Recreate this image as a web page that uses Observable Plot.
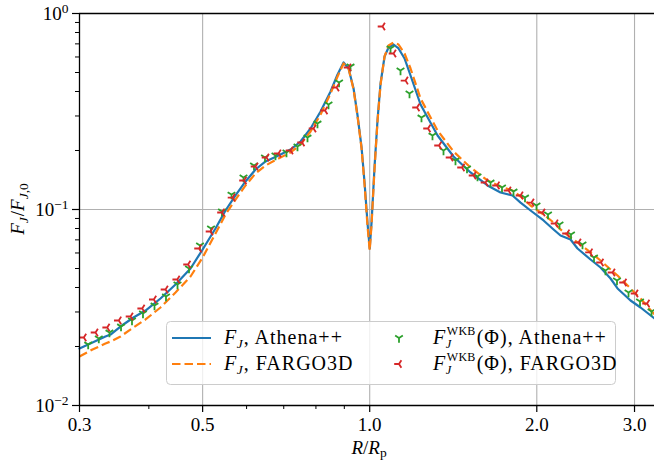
<!DOCTYPE html>
<html>
<head>
<meta charset="utf-8">
<script src="https://cdn.jsdelivr.net/npm/d3@7"></script>
<script src="https://cdn.jsdelivr.net/npm/@observablehq/plot@0.6"></script>
<style>
  body { margin: 0; background: #fff; }
  #wrap { position: relative; width: 654px; height: 461px; font-family: "Liberation Serif", serif; color: #000; }
  #wrap svg text { font-family: "Liberation Serif", serif; }
</style>
</head>
<body>
<div id="wrap"></div>
<script>
// ---- data ----
const xMajorTicks = [0.3, 0.5, 1, 2, 3];
const xMinorTicks = [0.4, 0.6, 0.7, 0.8, 0.9];
const yMajorTicks = [0.01, 0.1, 1];
const yMinorTicks = [0.02, 0.03, 0.04, 0.05, 0.06, 0.07, 0.08, 0.09, 0.2, 0.3, 0.4, 0.5, 0.6, 0.7, 0.8, 0.9];
const xGridTicks = [0.5, 1, 2, 3];
const yGridTicks = [0.1];

// radius grid of the simulation curves (R/Rp)
const lineR = [0.3000,0.3166,0.3341,0.3412,0.3556,0.3753,0.3945,0.4198,0.4468,0.4755,0.5000,0.5274,0.5498,0.5731,0.5974,0.6227,0.6491,0.6850,0.7200,0.7506,0.7824,0.8156,0.8501,0.8751,0.8972,0.9160,0.9352,0.9508,0.9668,0.9788,0.9911,1.0000,1.0077,1.0203,1.0331,1.0460,1.0635,1.0813,1.1040,1.1271,1.1555,1.1846,1.2348,1.3251,1.4159,1.5193,1.6304,1.7207,1.8086,1.8697,1.9489,2.0569,2.1441,2.2069,2.3004,2.3683,2.4995,2.6053,2.7157,2.7958,2.9506,3.0756,3.2592];
// F_J, Athena++
const athenaF = [0.01953,0.02096,0.02249,0.02302,0.02529,0.02812,0.03052,0.03515,0.04144,0.05000,0.06253,0.08001,0.09883,0.1179,0.1390,0.1600,0.1758,0.1886,0.2023,0.2223,0.2590,0.3162,0.4001,0.4884,0.5623,0.5241,0.4143,0.3018,0.2072,0.1373,0.08485,0.06326,0.08585,0.1657,0.2878,0.4394,0.6035,0.6707,0.6948,0.6630,0.5895,0.4827,0.3433,0.2385,0.1864,0.1545,0.1326,0.1221,0.1179,0.1085,0.09883,0.08789,0.07908,0.07370,0.07030,0.06326,0.05558,0.05060,0.04446,0.03954,0.03434,0.03162,0.02779];
// F_J, FARGO3D
const fargoF = [0.01778,0.01931,0.02071,0.02121,0.02249,0.02500,0.02747,0.03162,0.03772,0.04552,0.05689,0.07545,0.09429,0.1124,0.1326,0.1527,0.1677,0.1821,0.1954,0.2146,0.2500,0.3054,0.3907,0.4771,0.5557,0.5241,0.4095,0.2983,0.2047,0.1341,0.08191,0.06180,0.08386,0.1619,0.2844,0.4343,0.6035,0.6867,0.7112,0.6948,0.6251,0.5241,0.3683,0.2529,0.1977,0.1638,0.1406,0.1310,0.1250,0.1165,0.1048,0.09429,0.08585,0.07908,0.07197,0.06787,0.06036,0.05493,0.04942,0.04606,0.03954,0.03515,0.02912];

// F_J^WKB(Phi), Athena++
const wkbAthenaR = [0.3110,0.3250,0.3397,0.3564,0.3730,0.3904,0.4095,0.4295,0.4505,0.4725,0.4946,0.5177,0.5418,0.5636,0.5924,0.6187,0.6476,0.6764,0.7080,0.7411,0.7725,0.8052,0.8429,0.8805,0.9235,1.0902,1.1363,1.1795,1.2396,1.2975,1.3582,1.4274,1.4973,1.5639,1.6507,1.7312,1.8158,1.9046,1.9976,2.0952,2.1976,2.3049,2.4176,2.5357,2.6596,2.7896,2.9262,3.0692,3.2190];
const wkbAthenaF = [0.02047,0.02197,0.02357,0.02529,0.02715,0.02947,0.03237,0.03599,0.04144,0.05000,0.06553,0.08001,0.09768,0.1192,0.1457,0.1677,0.1842,0.1886,0.1954,0.2096,0.2329,0.2746,0.3433,0.4446,0.5364,0.6630,0.5120,0.3907,0.2946,0.2385,0.2000,0.1778,0.1619,0.1474,0.1373,0.1295,0.1235,0.1151,0.1048,0.09429,0.08386,0.07457,0.06630,0.05689,0.04884,0.04343,0.03772,0.03394,0.03017];

// F_J^WKB(Phi), FARGO3D
const wkbFargoR = [0.3054,0.3206,0.3365,0.3531,0.3707,0.3891,0.4083,0.4286,0.4500,0.4706,0.4926,0.5166,0.5418,0.5660,0.5936,0.6226,0.6517,0.6849,0.7200,0.7552,0.7921,0.8308,0.8714,0.9159,1.0545,1.1038,1.1601,1.2168,1.2736,1.3331,1.3983,1.4666,1.5382,1.6167,1.6956,1.7785,1.8693,1.9566,2.0479,2.1614,2.2670,2.3778,2.4940,2.6105,2.7380,2.8718,3.0125,3.1597];
const wkbFargoF = [0.02223,0.02357,0.02500,0.02715,0.02845,0.03125,0.03474,0.03907,0.04394,0.05241,0.06326,0.07724,0.09654,0.1151,0.1406,0.1657,0.1842,0.1931,0.2000,0.2197,0.2590,0.3200,0.4193,0.5302,0.8584,0.6251,0.4550,0.3314,0.2590,0.2121,0.1842,0.1638,0.1491,0.1373,0.1326,0.1250,0.1179,0.1085,0.09654,0.08485,0.07545,0.06787,0.06036,0.05366,0.04771,0.04242,0.03728,0.03314];

const seriesNames = ["F_J, Athena++", "F_J, FARGO3D", "F_J^WKB(Φ), Athena++", "F_J^WKB(Φ), FARGO3D"];
const colors = ["#1f77b4", "#ff7f0e", "#2ca02c", "#d62728"];

// ---- tables ----
const athena = lineR.map((r, i) => ({r, f: athenaF[i]}));
const fargo = lineR.map((r, i) => ({r, f: fargoF[i]}));
const wkbA = wkbAthenaR.map((r, i) => ({r, f: wkbAthenaF[i]}));
const wkbF = wkbFargoR.map((r, i) => ({r, f: wkbFargoF[i]}));

// matplotlib-like tri markers
const triDown = { draw(ctx, size) { const r = Math.sqrt(size / Math.PI);
  ctx.moveTo(0, 0); ctx.lineTo(0, r);
  ctx.moveTo(0, 0); ctx.lineTo(0.8 * r, -0.5 * r);
  ctx.moveTo(0, 0); ctx.lineTo(-0.8 * r, -0.5 * r); } };
const triLeft = { draw(ctx, size) { const r = Math.sqrt(size / Math.PI);
  ctx.moveTo(0, 0); ctx.lineTo(-r, 0);
  ctx.moveTo(0, 0); ctx.lineTo(0.5 * r, -0.8 * r);
  ctx.moveTo(0, 0); ctx.lineTo(0.5 * r, 0.8 * r); } };

const markR = 4.8;
const lw = 2.2;
const dash = "8.5,4";
const serif = "'Liberation Serif', serif";

const svg = Plot.plot({
  width: 654, height: 461,
  marginLeft: 79, marginRight: 0, marginTop: 13, marginBottom: 56,
  style: { fontFamily: serif, fontSize: "19px", color: "#000", background: "#fff", overflow: "visible" },
  x: { type: "log", domain: [0.3, 3.2592], label: null },
  y: { type: "log", domain: [0.01, 1], label: null },
  marks: [
    Plot.gridX(xGridTicks, { stroke: "#b0b0b0", strokeOpacity: 1, strokeWidth: 1.1 }),
    Plot.gridY(yGridTicks, { stroke: "#b0b0b0", strokeOpacity: 1, strokeWidth: 1.1 }),
    Plot.line(athena, { x: "r", y: "f", stroke: colors[0], strokeWidth: lw }),
    Plot.line(fargo, { x: "r", y: "f", stroke: colors[1], strokeWidth: lw, strokeDasharray: dash, strokeLinecap: "butt" }),
    Plot.dot(wkbA, { x: "r", y: "f", symbol: triDown, r: markR, stroke: colors[2], fill: "none", strokeWidth: 1.8 }),
    Plot.dot(wkbF, { x: "r", y: "f", symbol: triLeft, r: markR, stroke: colors[3], fill: "none", strokeWidth: 1.8 }),
    Plot.ruleX([0.3], { stroke: "#000", strokeWidth: 1.3 }),
    Plot.ruleY([0.01], { stroke: "#000", strokeWidth: 1.3 }),
    Plot.ruleY([1], { stroke: "#000", strokeWidth: 1.3 }),
    Plot.axisX({ ticks: xMajorTicks, tickSize: 7, tickPadding: 5, strokeWidth: 1.2, fontSize: 19, fontFamily: serif,
                 tickFormat: d => d.toFixed(1) }),
    Plot.axisX({ ticks: xMinorTicks, tickSize: 4, strokeWidth: 1, tickFormat: () => "" }),
    Plot.axisY({ ticks: yMajorTicks, tickSize: 7, tickPadding: 4, strokeWidth: 1.2, fontSize: 19, fontFamily: serif,
                 tickFormat: d => "10^" + Math.round(Math.log10(d)) }),
    Plot.axisY({ ticks: yMinorTicks, tickSize: 4, strokeWidth: 1, tickFormat: () => "" })
  ]
});

const wrap = document.getElementById("wrap");
wrap.appendChild(svg);
const root = d3.select(svg);

// superscript exponents on the y tick labels
root.selectAll("text").each(function () {
  const t = this.textContent;
  if (t.startsWith("10^")) {
    const e = t.slice(3).replace("-", "\u2212");
    this.textContent = "";
    const s = d3.select(this);
    s.append("tspan").text("10");
    s.append("tspan").attr("dy", "-0.5em").attr("font-size", "13.5px").text(e);
  }
});

// axis titles
const ylab = root.append("text")
  .attr("transform", "translate(24,209) rotate(-90)")
  .attr("text-anchor", "middle").attr("font-size", 19).attr("fill", "#000");
ylab.append("tspan").attr("font-style", "italic").text("F");
ylab.append("tspan").attr("font-style", "italic").attr("font-size", 13.5).attr("dy", 4).text("J");
ylab.append("tspan").attr("dy", -4).attr("dx", 1).text("/");
ylab.append("tspan").attr("font-style", "italic").text("F");
ylab.append("tspan").attr("font-style", "italic").attr("font-size", 13.5).attr("dy", 4).text("J");
ylab.append("tspan").attr("font-size", 13.5).text(",0");

const xlab = root.append("text")
  .attr("x", 369).attr("y", 454)
  .attr("text-anchor", "middle").attr("font-size", 19).attr("fill", "#000");
xlab.append("tspan").attr("font-style", "italic").text("R");
xlab.append("tspan").text("/");
xlab.append("tspan").attr("font-style", "italic").text("R");
xlab.append("tspan").attr("font-size", 13.5).attr("dy", 3).text("p");

// ---- legend (inside the axes, lower centre) ----
const lg = root.append("g").attr("text-anchor", "start");
lg.append("rect").attr("x", 166.5).attr("y", 321.5).attr("width", 449).attr("height", 63).attr("rx", 4)
  .attr("fill", "#fff").attr("fill-opacity", 0.8).attr("stroke", "#cccccc").attr("stroke-width", 1);

const rows = [344, 370];            // text baselines
const entries = [
  { col: 0, row: 0, kind: "line" },
  { col: 0, row: 1, kind: "dash" },
  { col: 1, row: 0, kind: "triDown" },
  { col: 1, row: 1, kind: "triLeft" }
];
const lineHandle = [172, 211];
const markHandle = 399;
const textX = [224, 433];

entries.forEach((e, i) => {
  const cy = rows[e.row] - 6;
  if (e.kind === "line" || e.kind === "dash") {
    const l = lg.append("line").attr("x1", lineHandle[0]).attr("x2", lineHandle[1]).attr("y1", cy).attr("y2", cy)
      .attr("stroke", colors[i]).attr("stroke-width", lw);
    if (e.kind === "dash") l.attr("stroke-dasharray", dash);
  } else {
    const sym = e.kind === "triDown" ? triDown : triLeft;
    lg.append("path").attr("d", d3.symbol(sym, markR * markR * Math.PI)())
      .attr("transform", `translate(${markHandle},${cy})`).attr("fill", "none")
      .attr("stroke", colors[i]).attr("stroke-width", 1.8);
  }
  const [head, tail] = seriesNames[i].split(", ");
  const t = lg.append("text").attr("x", textX[e.col]).attr("y", rows[e.row])
    .attr("text-anchor", "start")
    .attr("font-size", 20).attr("letter-spacing", 1).attr("fill", "#000");
  t.append("tspan").attr("font-style", "italic").text("F");
  if (head.startsWith("F_J^WKB")) {
    t.append("tspan").attr("font-style", "italic").attr("font-size", 12.5).attr("letter-spacing", 0)
      .attr("dx", -0.5).attr("dy", 4).text("J");
    t.append("tspan").attr("font-size", 12).attr("letter-spacing", 0.3)
      .attr("dx", -4.5).attr("dy", -13.5).text("WKB");
    t.append("tspan").attr("dx", 1).attr("dy", 9.5).text("(Φ), " + tail);
  } else {
    t.append("tspan").attr("font-style", "italic").attr("font-size", 13.5).attr("letter-spacing", 0)
      .attr("dx", -0.5).attr("dy", 4).text("J");
    t.append("tspan").attr("dy", -4).attr("dx", 1).text(", " + tail);
  }
});
</script>
</body>
</html>
